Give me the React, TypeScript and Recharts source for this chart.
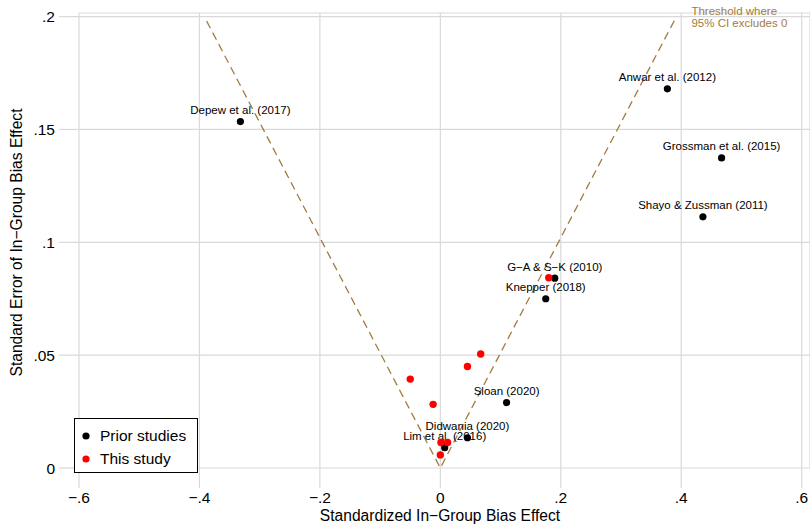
import React from 'react';
import { ScatterChart, Scatter, XAxis, YAxis, CartesianGrid, Legend, Label } from 'recharts';

const FONT = '"Liberation Sans", Arial, Helvetica, sans-serif';
const GRID = '#d9d9d9';
const THRESHOLD = '#a27c3e';

// prior studies: effect size and its standard error
const priorNames = [
  'Depew et al. (2017)',
  'Anwar et al. (2012)',
  'Grossman et al. (2015)',
  'Shayo & Zussman (2011)',
  'G\u2212A & S\u2212K (2010)',
  'Knepper (2018)',
  'Sloan (2020)',
  'Didwania (2020)',
  'Lim et al. (2016)',
];
const priorEffect = [-0.332, 0.377, 0.467, 0.436, 0.19, 0.175, 0.11, 0.045, 0.0072];
const priorSE = [0.1535, 0.168, 0.1374, 0.1113, 0.0841, 0.075, 0.029, 0.0134, 0.009];

// estimates from this study
const studyEffect = [0.18, 0.067, 0.045, -0.05, -0.012, 0.001, 0.012, 0.0];
const studySE = [0.0843, 0.0505, 0.045, 0.0394, 0.0282, 0.0113, 0.0113, 0.0058];

// 1.96 * SE boundary
const thresholdEffect = [-0.388, 0, 0.392];
const thresholdSE = [0.198, 0, 0.2];
const thresholdLabel = ['Threshold where', '95% CI excludes 0'];

const xTicks = [-0.6, -0.4, -0.2, 0, 0.2, 0.4, 0.6];
const yTicks = [0, 0.05, 0.1, 0.15, 0.2];

const priorData = priorNames.map((name, i) => ({ name, x: priorEffect[i], y: priorSE[i] }));
const studyData = studyEffect.map((x, i) => ({ x, y: studySE[i] }));
const thresholdData = thresholdEffect.map((x, i) => ({ x, y: thresholdSE[i] }));

const fmtTick = (v: number) => {
  if (v === 0) return '0';
  const s = Math.abs(v).toString().replace(/^0/, '');
  return v < 0 ? '\u2212' + s : s;
};

const PriorDot = (props: any) => {
  const { cx, cy, payload } = props;
  return (
    <g>
      <text x={cx} y={cy - 7.5} textAnchor="middle" fontSize={11.5} fontFamily={FONT} fill="#000">
        {payload.name}
      </text>
      <circle cx={cx} cy={cy} r={3.6} fill="#000" />
    </g>
  );
};

const StudyDot = (props: any) => <circle cx={props.cx} cy={props.cy} r={3.7} fill="#ff0000" />;

const ThresholdEnd = (props: any) => {
  const { cx, cy, payload } = props;
  if (payload.x !== thresholdEffect[thresholdEffect.length - 1]) return <g />;
  return (
    <text x={cx + 15} y={cy - 1.7} fontSize={11.5} fontFamily={FONT} fill={THRESHOLD}>
      <tspan x={cx + 15}>{thresholdLabel[0]}</tspan>
      <tspan x={cx + 15} dy={11.7}>{thresholdLabel[1]}</tspan>
    </text>
  );
};

const LegendBox = () => (
  <div
    style={{
      width: 124,
      height: 55,
      boxSizing: 'border-box',
      border: '1px solid #000',
      background: '#fff',
      fontFamily: FONT,
      fontSize: 15.5,
      color: '#000',
      position: 'relative',
    }}
  >
    {[
      { label: 'Prior studies', color: '#000' },
      { label: 'This study', color: '#ff0000' },
    ].map((item, i) => (
      <div key={item.label} style={{ position: 'absolute', left: 0, top: 9 + i * 22.5, height: 16, display: 'flex', alignItems: 'center' }}>
        <svg width={22} height={16}>
          <circle cx={11} cy={8} r={3.6} fill={item.color} />
        </svg>
        <span style={{ marginLeft: 3, lineHeight: '16px', whiteSpace: 'nowrap' }}>{item.label}</span>
      </div>
    ))}
  </div>
);

export default function App() {
  return (
    <div style={{ position: 'absolute', left: 0, top: 0, width: 810, height: 524, fontFamily: FONT }}>
      <ScatterChart width={810} height={524} margin={{ top: 13, right: 0, bottom: 0, left: 0 }}>
        <CartesianGrid stroke={GRID} strokeWidth={1.2} />
        <XAxis
          type="number"
          dataKey="x"
          domain={[-0.6, 0.6138]}
          ticks={xTicks}
          interval={0}
          tickFormatter={fmtTick}
          axisLine={false}
          tickLine={{ stroke: GRID, strokeWidth: 1.2 }}
          tickSize={20}
          tickMargin={4}
          height={56}
          tick={{ fill: '#000', fontSize: 15.5, fontFamily: FONT }}
        >
          <Label
            content={(p: any) => {
              const vb = p.viewBox;
              return (
                <text x={440} y={vb.y + 52.5} textAnchor="middle" fontSize={15.6} fontFamily={FONT} fill="#000">
                  Standardized In{'\u2212'}Group Bias Effect
                </text>
              );
            }}
          />
        </XAxis>
        <YAxis
          type="number"
          dataKey="y"
          domain={[0, 0.2016]}
          ticks={yTicks}
          interval={0}
          tickFormatter={fmtTick}
          axisLine={false}
          tickLine={{ stroke: GRID, strokeWidth: 1.2 }}
          tickSize={20}
          tickMargin={4}
          width={79}
          tick={{ fill: '#000', fontSize: 15.5, fontFamily: FONT }}
        >
          <Label
            content={(p: any) => {
              const vb = p.viewBox;
              const cy = vb.y + vb.height / 2 + 2;
              return (
                <text x={22} y={cy} transform={`rotate(-90, 22, ${cy})`} textAnchor="middle" fontSize={15.6} fontFamily={FONT} fill="#000">
                  Standard Error of In{'\u2212'}Group Bias Effect
                </text>
              );
            }}
          />
        </YAxis>
        <Scatter
          data={thresholdData}
          line={{ stroke: THRESHOLD, strokeWidth: 1.3, strokeDasharray: '8 5' }}
          shape={ThresholdEnd}
          isAnimationActive={false}
          legendType="none"
        />
        <Scatter data={priorData} name="Prior studies" shape={PriorDot} fill="#000" isAnimationActive={false} />
        <Scatter data={studyData} name="This study" shape={StudyDot} fill="#ff0000" isAnimationActive={false} />
        <Legend
          layout="vertical"
          align="center"
          verticalAlign="middle"
          content={LegendBox}
          wrapperStyle={{ left: 74, top: 418, width: 124, height: 55 }}
        />
      </ScatterChart>
    </div>
  );
}
